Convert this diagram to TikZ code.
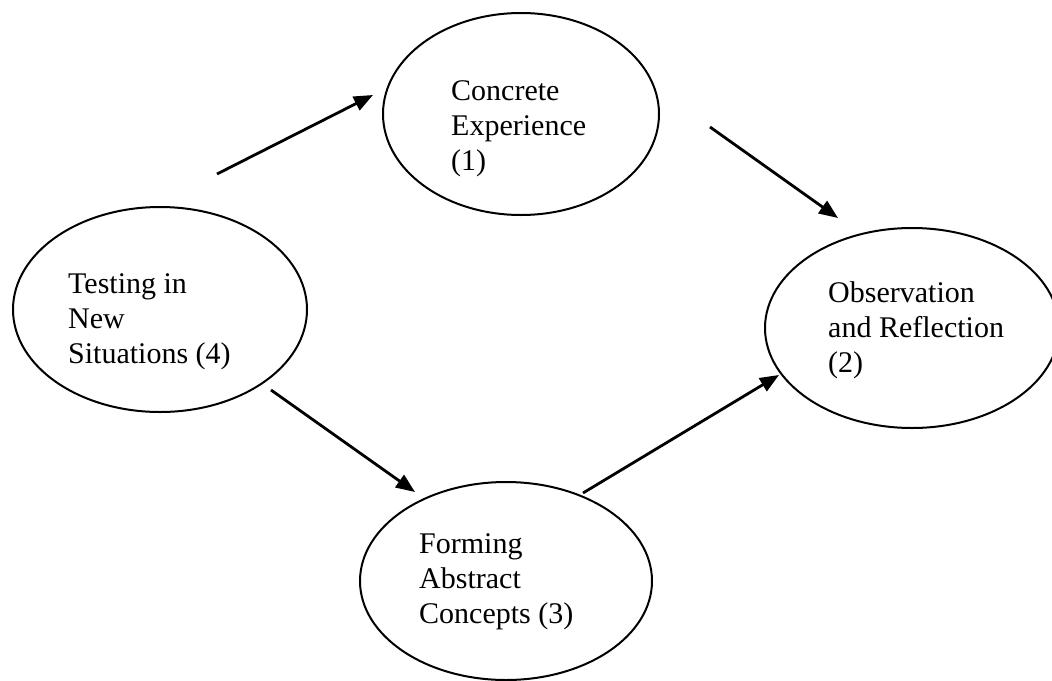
\documentclass[tikz,border=0pt]{standalone}
\usepackage{fontspec}
\setmainfont{Liberation Serif}
\usetikzlibrary{shapes.geometric,arrows.meta}
\begin{document}
\begin{tikzpicture}[x=1pt,y=-1pt,
  stage/.style={draw=black,ellipse,line width=2pt,inner sep=0pt},
  label/.style={anchor=base west,align=left,inner sep=0pt,font=\fontsize{30}{35}\selectfont},
  flow/.style={line width=2.8pt,-{Triangle[length=19pt,width=15pt]}}]
\useasboundingbox (0,0) rectangle (1052,680);
\clip (0,0) rectangle (1052,680);
% ellipses
\node[stage,minimum width=276pt,minimum height=202pt] (ce) at (521,114) {};
\node[stage,minimum width=294pt,minimum height=200pt] (or) at (912,328) {};
\node[stage,minimum width=294pt,minimum height=205pt] (tn) at (160,309.5) {};
\node[stage,minimum width=292pt,minimum height=198pt] (fa) at (506,581) {};
% texts (anchor = baseline of last line)
\node[label] (tce) at (451,170) {Concrete\\Experience\\(1)};
\node[label] (tor) at (828,372) {Observation\\and Reflection\\(2)};
\node[label] (ttn) at (68,363) {Testing in\\New\\Situations (4)};
\node[label] (tfa) at (419,623) {Forming\\Abstract\\Concepts (3)};
% connector ends
\coordinate (a1) at (217,174);
\coordinate (b1) at (373,95);
\coordinate (a2) at (710,127);
\coordinate (b2) at (838,218);
\coordinate (a3) at (271,390);
\coordinate (b3) at (415,492);
\coordinate (a4) at (583,493);
\coordinate (b4) at (779,375);
\draw[flow] (a1) -- (b1);
\draw[flow] (a2) -- (b2);
\draw[flow] (a3) -- (b3);
\draw[flow] (a4) -- (b4);
\end{tikzpicture}
\end{document}
